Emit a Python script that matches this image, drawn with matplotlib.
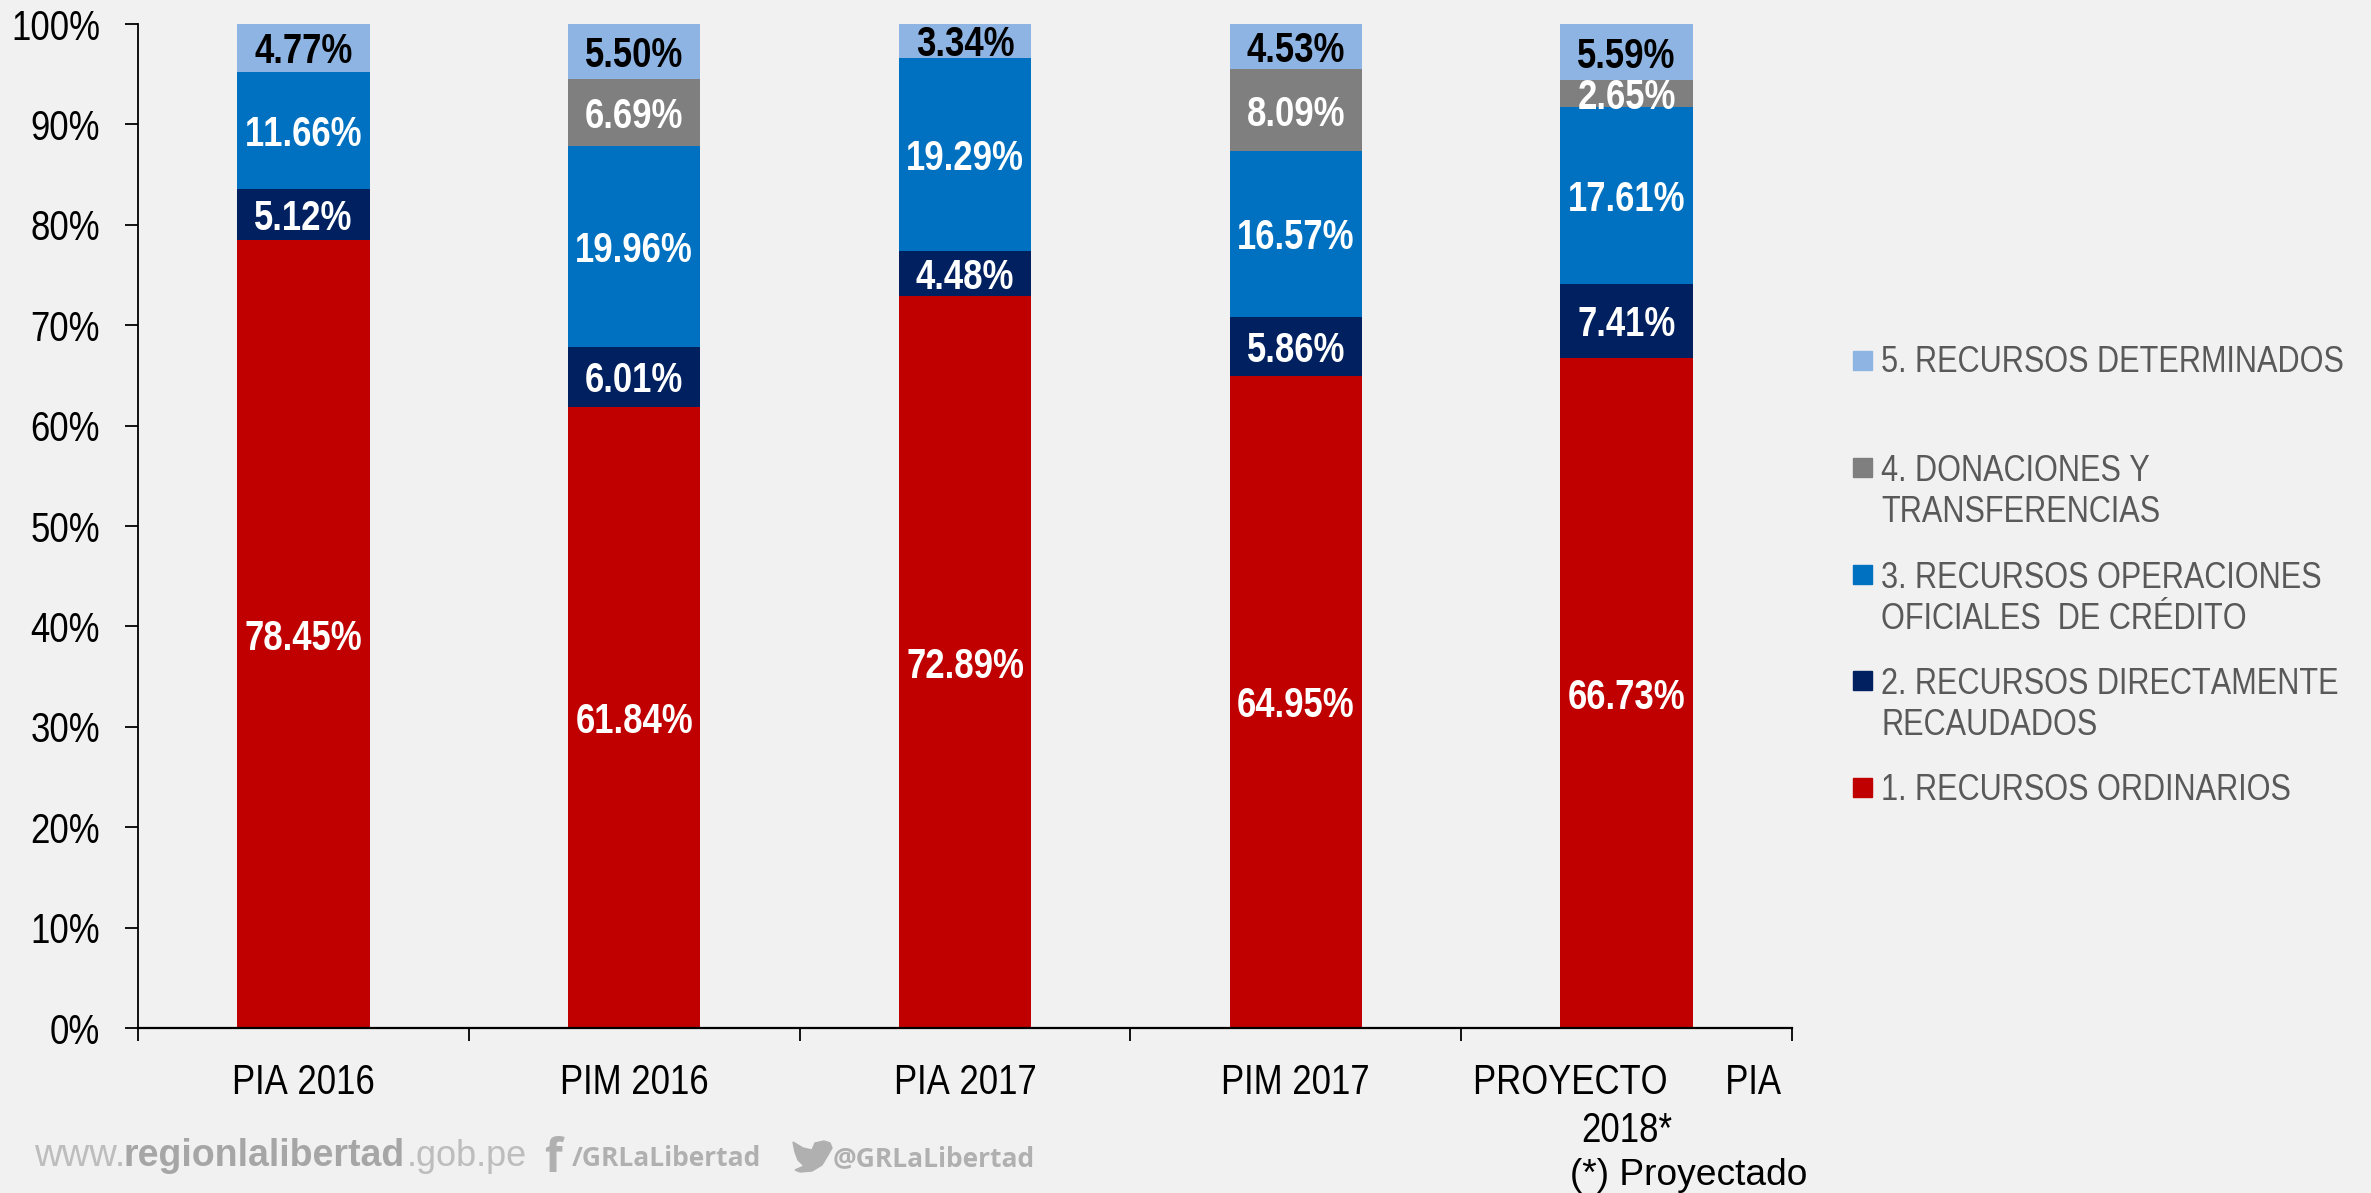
import numpy as np
from fontTools.ttLib import TTFont
from matplotlib import font_manager
from matplotlib import pyplot as plt
from matplotlib.patches import Polygon, Rectangle

W, H = 2371, 1193
NARROW = 'Cond Sans'


def make_narrow(weight, out_name, scale=0.82):
    # no Arial Narrow here, so squeeze Liberation Sans into a font file of our own
    path = font_manager.findfont(font_manager.FontProperties(family='Liberation Sans', weight=weight))
    font = TTFont(path)
    glyf = font['glyf']
    for name in glyf.keys():
        g = glyf[name]
        if g.isComposite():
            for c in g.components:
                c.x = int(c.x * scale)
        elif g.numberOfContours > 0:
            g.coordinates.scale((scale, 1))
        if hasattr(g, 'program'):
            g.removeHinting()
        if g.numberOfContours != 0:
            g.recalcBounds(glyf)
    hmtx = font['hmtx']
    for name, (adv, lsb) in hmtx.metrics.items():
        hmtx.metrics[name] = (int(adv * scale), int(lsb * scale))
    for tag in ['kern', 'GPOS', 'GSUB', 'fpgm', 'prep', 'cvt ', 'hdmx', 'VDMX', 'LTSH']:
        if tag in font:
            del font[tag]
    for rec in font['name'].names:
        if rec.nameID in (1, 16):
            rec.string = NARROW
        elif rec.nameID in (4, 6):
            rec.string = out_name[:-4]
    font.save(out_name)
    font_manager.fontManager.addfont(out_name)


make_narrow('normal', 'CondSans-Regular.ttf')
make_narrow('bold', 'CondSans-Bold.ttf')

categories = ['PIA 2016', 'PIM 2016', 'PIA 2017', 'PIM 2017', 'PROYECTO      PIA\n2018*']
ordinarios = [78.45, 61.84, 72.89, 64.95, 66.73]
directamente = [5.12, 6.01, 4.48, 5.86, 7.41]
operaciones = [11.66, 19.96, 19.29, 16.57, 17.61]
donaciones = [0, 6.69, 0, 8.09, 2.65]
determinados = [4.77, 5.50, 3.34, 4.53, 5.59]

series = [ordinarios, directamente, operaciones, donaciones, determinados]
colors = ['#C00000', '#002060', '#0070C0', '#7F7F7F', '#8EB4E3']
label_colors = ['white', 'white', 'white', 'white', 'black']
legend_labels = [
    '1. RECURSOS ORDINARIOS',
    '2. RECURSOS DIRECTAMENTE\nRECAUDADOS',
    '3. RECURSOS OPERACIONES\nOFICIALES  DE CRÉDITO',
    '4. DONACIONES Y\nTRANSFERENCIAS',
    '5. RECURSOS DETERMINADOS',
]
yticks = list(range(0, 101, 10))

bg = '#F1F1F1'
fig = plt.figure(figsize=(W / 100, H / 100), dpi=100, facecolor=bg)
ax = fig.add_axes([138 / W, 1 - 1028 / H, (1792 - 138) / W, (1028 - 24) / H], facecolor=bg)

x = np.arange(len(categories))
bottom = np.zeros(len(categories))
for values, color, text_color in zip(series, colors, label_colors):
    ax.bar(x, values, 0.4, bottom=bottom, color=color)
    for xi, b, v in zip(x, bottom, values):
        if v > 0:
            ax.text(xi, b + v / 2, f'{v:.2f}%', ha='center', va='center_baseline', color=text_color,
                    fontsize=30.5, fontweight='bold', family=NARROW)
    bottom += values

ax.set_xlim(-0.5, 4.5)
ax.set_ylim(0, 100)
ax.set_yticks(yticks)
ax.set_yticklabels([f'{t}%' for t in yticks], family=NARROW, fontsize=30.5)
ax.set_xticks(np.append(x - 0.5, 4.5))
ax.set_xticklabels([])
ax.set_xticks(x, labels=categories, minor=True, family=NARROW, fontsize=30.5, linespacing=1.27)
ax.tick_params(axis='x', which='major', length=9.4, width=1.3, color='black')
ax.tick_params(axis='x', which='minor', length=0, pad=25)
ax.tick_params(axis='y', length=9.4, width=1.3, color='black', pad=18)
for side in ['top', 'right']:
    ax.spines[side].set_visible(False)
ax.spines['left'].set_linewidth(1.3)
ax.spines['bottom'].set_linewidth(1.6)

# legend is placed by hand, the entries have different heights
legend_tops = [778, 671, 565, 458, 351]
for label, color, top in zip(legend_labels, colors, legend_tops):
    fig.add_artist(Rectangle((1853 / W, 1 - (top + 19) / H), 19 / W, 19 / H, color=color,
                             transform=fig.transFigure))
    baseline = top + 64 if '\n' in label else top + 21.5
    fig.text(1881 / W, 1 - baseline / H, label, color='#595959', fontsize=26.9, family=NARROW,
             ha='left', va='baseline', linespacing=1.23)

fig.text(1570 / W, 1 - 1185 / H, '(*) Proyectado', fontsize=26.7, family='Liberation Sans', color='black')

# watermark
wm = '#BDBDBD'
wm_bold = '#B0B0B0'
base = 1 - 1166 / H
fig.text(34 / W, base, 'www.', color=wm, fontsize=27.5, family='Liberation Sans')
fig.text(123 / W, base, 'regionlalibertad', color='#A6A6A6', fontsize=27, fontweight='bold', family='Liberation Sans')
fig.text(407 / W, base, '.gob.pe', color=wm, fontsize=26, family='Liberation Sans')
fig.text(544 / W, 1 - 1172 / H, 'f', color=wm_bold, fontsize=33, fontweight='bold', family='Open Sans')
fig.text(572 / W, base, '/GRLaLibertad', color=wm_bold, fontsize=19, fontweight='bold', family='Open Sans')
fig.text(833 / W, base, '@GRLaLibertad', color=wm_bold, fontsize=19, fontweight='bold', family='Open Sans')
bird = [(793, 1142), (803, 1148), (812, 1150), (815, 1143), (824, 1141), (830, 1143), (832, 1148),
        (828, 1155), (822, 1165), (812, 1171), (800, 1172), (795, 1170), (804, 1166), (798, 1160), (795, 1152)]
fig.add_artist(Polygon([(px / W, 1 - py / H) for px, py in bird], closed=True, color=wm_bold,
                       transform=fig.transFigure))

fig.savefig('out.png', dpi=100, facecolor=bg)
